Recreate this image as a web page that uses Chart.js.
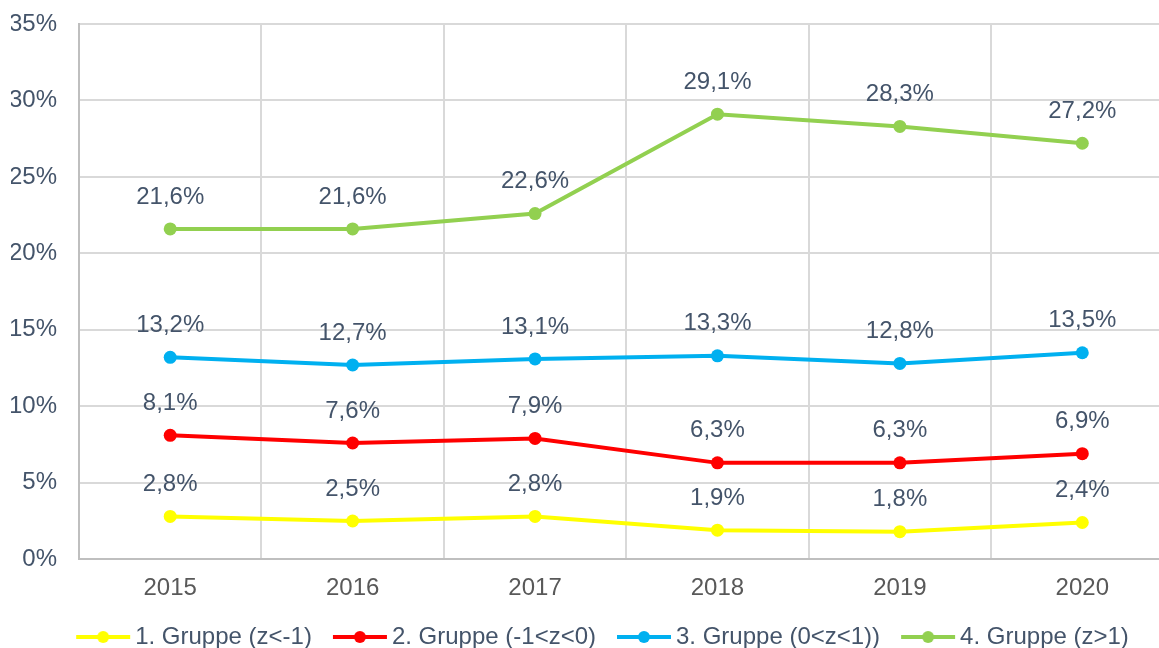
<!DOCTYPE html>
<html>
<head>
<meta charset="utf-8">
<script src="https://cdn.jsdelivr.net/npm/chart.js@4/dist/chart.umd.min.js"></script>
<style>
  html, body { margin: 0; padding: 0; background: #fff; overflow: hidden; }
  #wrap { width: 1180px; height: 648px; }
</style>
</head>
<body>
<div id="wrap"><canvas id="chart" width="1180" height="648"></canvas></div>
<script>
const years = ['2015', '2016', '2017', '2018', '2019', '2020'];
const gruppe1 = [2.8, 2.5, 2.8, 1.9, 1.8, 2.4];
const gruppe2 = [8.1, 7.6, 7.9, 6.3, 6.3, 6.9];
const gruppe3 = [13.2, 12.7, 13.1, 13.3, 12.8, 13.5];
const gruppe4 = [21.6, 21.6, 22.6, 29.1, 28.3, 27.2];
const seriesNames = ['1. Gruppe (z<-1)', '2. Gruppe (-1<z<0)', '3. Gruppe (0<z<1))', '4. Gruppe (z>1)'];
const seriesColors = ['#FFFF00', '#FF0000', '#00B0F0', '#92D050'];

const FONT = '"Liberation Sans", Arial, sans-serif';

// legend marker: line with a dot, drawn a bit left of its slot
function legendMarker(color) {
    const c = document.createElement('canvas');
    c.width = 70;
    c.height = 14;
    const g = c.getContext('2d');
    g.strokeStyle = color;
    g.lineWidth = 4;
    g.beginPath();
    g.moveTo(11, 7);
    g.lineTo(65, 7);
    g.stroke();
    g.fillStyle = color;
    g.beginPath();
    g.arc(38, 7, 6, 0, Math.PI * 2);
    g.fill();
    return c;
}

const valueLabels = {
    id: 'valueLabels',
    afterDatasetsDraw(chart) {
        const ctx = chart.ctx;
        ctx.save();
        ctx.font = '24px ' + FONT;
        ctx.fillStyle = '#44546A';
        ctx.textAlign = 'center';
        ctx.textBaseline = 'middle';
        chart.data.datasets.forEach((ds, i) => {
            chart.getDatasetMeta(i).data.forEach((pt, j) => {
                const txt = ds.data[j].toFixed(1).replace('.', ',') + '%';
                ctx.fillText(txt, pt.x, pt.y - 32);
            });
        });
        ctx.restore();
    }
};

// the legend in the original sits a little right of the canvas centre
const legendShift = {
    id: 'legendShift',
    afterLayout(chart) {
        if (chart.legend) {
            chart.legend.left += 10.5;
            chart.legend.right += 10.5;
        }
    }
};

const allSeries = [gruppe1, gruppe2, gruppe3, gruppe4];
const datasets = allSeries.map((vals, i) => ({
    label: seriesNames[i],
    data: vals,
    borderColor: seriesColors[i],
    backgroundColor: seriesColors[i],
    borderWidth: 4,
    pointRadius: 6.5,
    pointHoverRadius: 6.5,
    pointBorderWidth: 0,
    pointStyle: 'circle',
    tension: 0,
    fill: false
}));

const markers = seriesColors.map(legendMarker);

new Chart(document.getElementById('chart'), {
    type: 'line',
    data: { labels: years, datasets: datasets },
    options: {
        responsive: false,
        animation: false,
        devicePixelRatio: 1,
        layout: { padding: { left: 11, right: 6, top: 24, bottom: -11 } },
        scales: {
            x: {
                offset: true,
                grid: { offset: true, color: '#D9D9D9', lineWidth: 2, drawTicks: false },
                border: { color: '#BFBFBF', width: 2 },
                ticks: { color: '#595959', font: { size: 24, family: FONT }, padding: 15 },
                afterFit(scale) { scale.height = scale.height - 15; }
            },
            y: {
                min: 0,
                max: 35,
                grid: { color: '#D9D9D9', lineWidth: 2, drawTicks: false },
                border: { color: '#BFBFBF', width: 2 },
                ticks: {
                    stepSize: 5,
                    color: '#44546A',
                    font: { size: 24, family: FONT },
                    padding: 22,
                    callback: v => v + '%'
                },
                afterFit(scale) {
                    scale.width = 68;
                    scale.paddingTop = 0;
                    scale.paddingBottom = 0;
                }
            }
        },
        plugins: {
            tooltip: { enabled: false },
            legend: {
                position: 'bottom',
                labels: {
                    usePointStyle: true,
                    pointStyleWidth: 46,
                    padding: 22,
                    color: '#44546A',
                    font: { size: 24, family: FONT },
                    generateLabels(chart) {
                        return chart.data.datasets.map((ds, i) => ({
                            text: ds.label,
                            pointStyle: markers[i],
                            fillStyle: ds.borderColor,
                            strokeStyle: ds.borderColor,
                            lineWidth: 0,
                            fontColor: '#44546A',
                            hidden: false,
                            datasetIndex: i
                        }));
                    }
                }
            }
        }
    },
    plugins: [valueLabels, legendShift]
});
</script>
</body>
</html>
